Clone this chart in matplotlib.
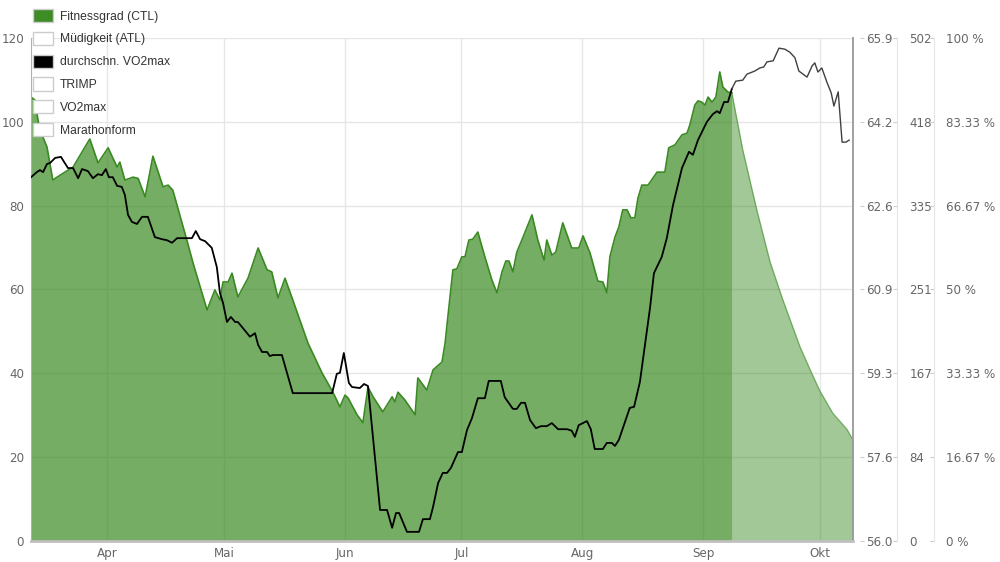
import numpy as np
import pandas as pd
import matplotlib
matplotlib.use("Agg")
import matplotlib.pyplot as plt
from matplotlib.patches import Patch

# -----------------------------
# DATEN (Tage ab 12. März)
# -----------------------------
start = pd.Timestamp("2018-03-12")

# Fitnessgrad (CTL), gemessen
ctl_day = [0.5, 1.5, 2.3, 2.8, 4.6, 6.1, 7.2, 9.2, 11.3, 13.6, 15.6, 17.7, 20.3, 22.6, 23.3,
           24.6, 26.7, 28.0, 29.8, 31.8, 34.4, 35.7, 36.9, 40.5, 42.1, 45.7, 47.7, 49.0, 49.8,
           51.1, 52.1, 53.6, 56.2, 58.8, 61.1, 62.3, 63.9, 65.7, 67.7, 71.6, 75.2, 78.0, 79.8,
           81.1, 81.9, 84.2, 85.7, 87.0, 88.3, 90.8, 93.2, 93.9, 94.7, 96.5, 99.1, 99.8, 102.1,
           103.7, 106.0, 106.8, 107.5, 108.8, 109.8, 111.1, 111.9, 112.9, 113.9, 115.2, 117.0,
           118.8, 120.1, 121.4, 122.4, 123.2, 124.2, 125.2, 126.5, 129.1, 130.6, 132.2, 132.9,
           134.2, 135.2, 137.0, 139.3, 141.1, 142.2, 144.0, 146.0, 147.3, 148.3, 149.1, 150.4,
           151.4, 152.4, 153.5, 154.5, 155.5, 156.3, 157.3, 158.9, 161.2, 163.2, 164.2, 165.8,
           167.6, 168.9, 169.6, 170.9, 171.7, 172.7, 173.5, 174.3, 175.3, 176.3, 177.3, 178.1,
           179.4, 180.4]
ctl_val = [105.9, 105.2, 100.4, 98.1, 94.0, 86.1, 86.8, 88.0, 89.2, 92.8, 95.9, 90.2, 93.8,
           89.2, 90.4, 86.1, 86.8, 86.5, 82.1, 91.8, 84.5, 84.9, 83.7, 71.8, 66.3, 55.1, 59.9,
           57.5, 61.8, 61.8, 63.9, 58.2, 62.7, 69.9, 64.7, 64.2, 58.0, 62.7, 57.5, 47.2, 40.1,
           35.5, 32.0, 34.8, 34.1, 30.1, 28.2, 36.7, 34.4, 30.8, 34.4, 33.2, 35.5, 33.6, 30.1,
           38.9, 36.0, 40.8, 42.7, 47.2, 53.4, 64.7, 64.9, 67.8, 67.8, 71.8, 72.0, 73.7, 67.8,
           62.3, 59.2, 64.2, 66.8, 66.8, 64.2, 68.9, 71.8, 77.8, 71.8, 67.0, 71.8, 68.2, 68.9,
           75.9, 69.9, 69.9, 72.8, 68.7, 62.0, 61.8, 59.2, 67.8, 72.5, 74.9, 79.0, 79.0, 77.1,
           77.1, 81.8, 84.9, 84.9, 88.0, 88.0, 93.8, 94.5, 96.9, 97.3, 99.2, 104.0, 105.0, 104.7,
           104.0, 105.9, 104.7, 105.9, 111.9, 108.3, 107.1, 106.9]

# Fitnessgrad, Prognose
ctl_fc_day = [180.4, 183.2, 186.8, 190.2, 193.5, 197.9, 201.0, 203.0, 206.3, 209.9, 211.5]
ctl_fc_val = [106.9, 93.3, 79.0, 66.6, 57.5, 46.3, 39.8, 35.8, 30.5, 26.7, 24.1]

# durchschn. VO2max, gemessen
vo2_day = [0.5, 2.0, 2.8, 3.6, 4.6, 5.4, 6.7, 8.2, 9.0, 10.0, 11.3, 12.6, 13.6, 15.1, 16.4,
           17.7, 18.7, 19.7, 20.5, 21.5, 22.6, 23.8, 24.6, 25.4, 26.4, 27.7, 29.0, 30.5, 32.3,
           34.1, 35.4, 36.7, 38.0, 39.2, 41.8, 42.8, 43.9, 45.2, 46.9, 48.2, 49.0, 49.8, 50.8,
           51.8, 52.9, 53.6, 54.9, 56.7, 58.0, 58.8, 59.8, 61.1, 61.8, 62.6, 64.9, 67.7, 77.8,
           79.0, 79.8, 80.8, 82.1, 82.9, 84.9, 86.0, 87.0, 90.1, 91.9, 93.2, 94.2, 95.0, 97.0,
           100.1, 101.1, 102.9, 103.7, 105.0, 106.2, 107.3, 108.3, 110.1, 111.1, 112.4, 113.7,
           115.2, 117.0, 118.0, 121.1, 122.1, 124.2, 125.2, 126.3, 127.3, 128.6, 130.1, 131.4,
           132.9, 134.2, 135.8, 138.1, 139.3, 140.1, 141.1, 143.2, 144.2, 145.2, 147.3, 148.3,
           149.6, 150.4, 151.4, 154.2, 155.3, 156.8, 158.1, 159.4, 160.4, 162.4, 163.7, 165.3,
           167.6, 169.4, 170.4, 171.7, 174.0, 175.5, 176.6, 177.3, 178.4, 179.4, 180.4]
vo2_val = [63.16, 63.26, 63.30, 63.26, 63.42, 63.44, 63.54, 63.56, 63.46, 63.34, 63.34, 63.14,
           63.32, 63.28, 63.14, 63.22, 63.20, 63.32, 63.16, 63.16, 62.99, 62.97, 62.81, 62.42,
           62.28, 62.24, 62.38, 62.38, 61.98, 61.94, 61.92, 61.87, 61.96, 61.96, 61.96, 62.10,
           61.94, 61.90, 61.77, 61.39, 60.88, 60.68, 60.31, 60.41, 60.31, 60.31, 60.19, 60.02,
           60.09, 59.86, 59.72, 59.72, 59.64, 59.66, 59.66, 58.91, 58.91, 59.29, 59.31, 59.70,
           59.11, 59.03, 59.01, 59.09, 59.05, 56.61, 56.61, 56.26, 56.55, 56.55, 56.18, 56.18,
           56.43, 56.43, 56.67, 57.14, 57.34, 57.34, 57.44, 57.75, 57.75, 58.18, 58.42, 58.81,
           58.81, 59.15, 59.15, 58.83, 58.60, 58.60, 58.72, 58.72, 58.38, 58.22, 58.26, 58.26,
           58.32, 58.20, 58.20, 58.17, 58.05, 58.28, 58.36, 58.20, 57.81, 57.81, 57.93, 57.93,
           57.87, 57.99, 58.62, 58.64, 59.13, 59.86, 60.59, 61.27, 61.59, 61.96, 62.61, 63.34,
           63.66, 63.60, 63.89, 64.25, 64.40, 64.46, 64.42, 64.64, 64.64, 64.90]

# durchschn. VO2max, Prognose
vo2_fc_day = [180.4, 181.4, 183.2, 184.3, 185.0, 186.3, 187.6, 188.6, 189.4, 191.0, 192.5,
              194.0, 195.3, 196.6, 197.6, 199.7, 201.0, 201.7, 202.5, 203.5, 204.8, 205.9,
              206.6, 207.7, 208.7, 209.7, 210.5]
vo2_fc_val = [64.90, 65.05, 65.07, 65.19, 65.21, 65.25, 65.31, 65.33, 65.43, 65.45, 65.70,
              65.68, 65.62, 65.51, 65.25, 65.13, 65.35, 65.41, 65.23, 65.31, 65.03, 64.82,
              64.56, 64.84, 63.85, 63.85, 63.89]

month_starts = ["2018-04-01", "2018-05-01", "2018-06-01", "2018-07-01",
                "2018-08-01", "2018-09-01", "2018-10-01"]
month_labels = ["Apr", "Mai", "Jun", "Jul", "Aug", "Sep", "Okt"]

ctl_ticks = [0, 20, 40, 60, 80, 100, 120]
vo2_labels = ["56.0", "57.6", "59.3", "60.9", "62.6", "64.2", "65.9"]
trimp_labels = ["0", "84", "167", "251", "335", "418", "502"]
pct_labels = ["0 %", "16.67 %", "33.33 %", "50 %", "66.67 %", "83.33 %", "100 %"]

legend_names = ["Fitnessgrad (CTL)", "Müdigkeit (ATL)", "durchschn. VO2max",
                "TRIMP", "VO2max", "Marathonform"]
legend_colors = ["#3d8c26", "white", "black", "white", "white", "white"]

# -----------------------------
# GRAFIK
# -----------------------------
green = "#3a8a22"
label_col = "#666666"
grid_col = "#e6e6e6"

fig = plt.figure(figsize=(10, 5.62), dpi=100)
ax = fig.add_axes([0.031, 0.0374, 0.822, 0.895])

ax.fill_between(ctl_day, ctl_val, 0, color=green, alpha=0.7, lw=0)
ax.plot(ctl_day, ctl_val, color=green, lw=1.2)
ax.fill_between(ctl_fc_day, ctl_fc_val, 0, color=green, alpha=0.47, lw=0)
ax.plot(ctl_fc_day, ctl_fc_val, color=green, lw=1.0, alpha=0.55)

month_pos = [(pd.Timestamp(m) - start).days for m in month_starts]
ax.set_xlim(0.5, 211.5)
ax.set_ylim(0, 120)
ax.set_xticks(month_pos)
ax.set_xticklabels(month_labels)
ax.set_yticks(ctl_ticks)
ax.grid(True, color=grid_col, lw=1)
ax.set_axisbelow(True)
ax.tick_params(axis="both", length=0, labelsize=8.6, labelcolor=label_col)
ax.tick_params(axis="y", pad=5)
ax.tick_params(axis="x", pad=4)
ax.spines["top"].set_visible(False)
ax.spines["left"].set_color("#b0b0b0")
ax.spines["bottom"].set_color("#c0c0c0")
ax.spines["bottom"].set_linewidth(2)
ax.spines["right"].set_color("#999999")
ax.spines["right"].set_linewidth(1.3)

# VO2max-Achse
ax2 = ax.twinx()
ax2.plot(vo2_day, vo2_val, color="black", lw=1.3)
ax2.plot(vo2_fc_day, vo2_fc_val, color="#404040", lw=1.0)
ax2.set_ylim(56.0, 65.9)
ax2.set_yticks(np.linspace(56.0, 65.9, 7))
ax2.set_yticklabels(vo2_labels)

# TRIMP-Achse
ax3 = ax.twinx()
ax3.set_ylim(0, 502)
ax3.set_yticks(np.linspace(0, 502, 7))
ax3.set_yticklabels(trimp_labels)

# Marathonform-Achse
ax4 = ax.twinx()
ax4.set_ylim(0, 100)
ax4.set_yticks(np.linspace(0, 100, 7))
ax4.set_yticklabels(pct_labels)

for a, pos, pad, show in [(ax2, 1.0134, 1.4, False), (ax3, 1.0535, 9.0, True),
                          (ax4, 1.0985, 9.0, True)]:
    for s in ["left", "top", "bottom"]:
        a.spines[s].set_visible(False)
    a.spines["right"].set_position(("axes", pos))
    a.spines["right"].set_color(grid_col if show else "none")
    a.tick_params(axis="y", direction="in", length=3, color="#cccccc",
                  pad=pad, labelsize=8.6, labelcolor=label_col)

handles = [Patch(facecolor=c, edgecolor="#cccccc", lw=1) for c in legend_colors]
fig.legend(handles, legend_names, loc="upper left", bbox_to_anchor=(0.033, 0.984),
           frameon=False, borderpad=0, borderaxespad=0,
           handlelength=1.65, handleheight=1.32, handletextpad=0.58, labelspacing=0.75,
           labelcolor="#333333", prop={"family": "Liberation Sans", "size": 8.7})

plt.savefig("out.png", dpi=100)
